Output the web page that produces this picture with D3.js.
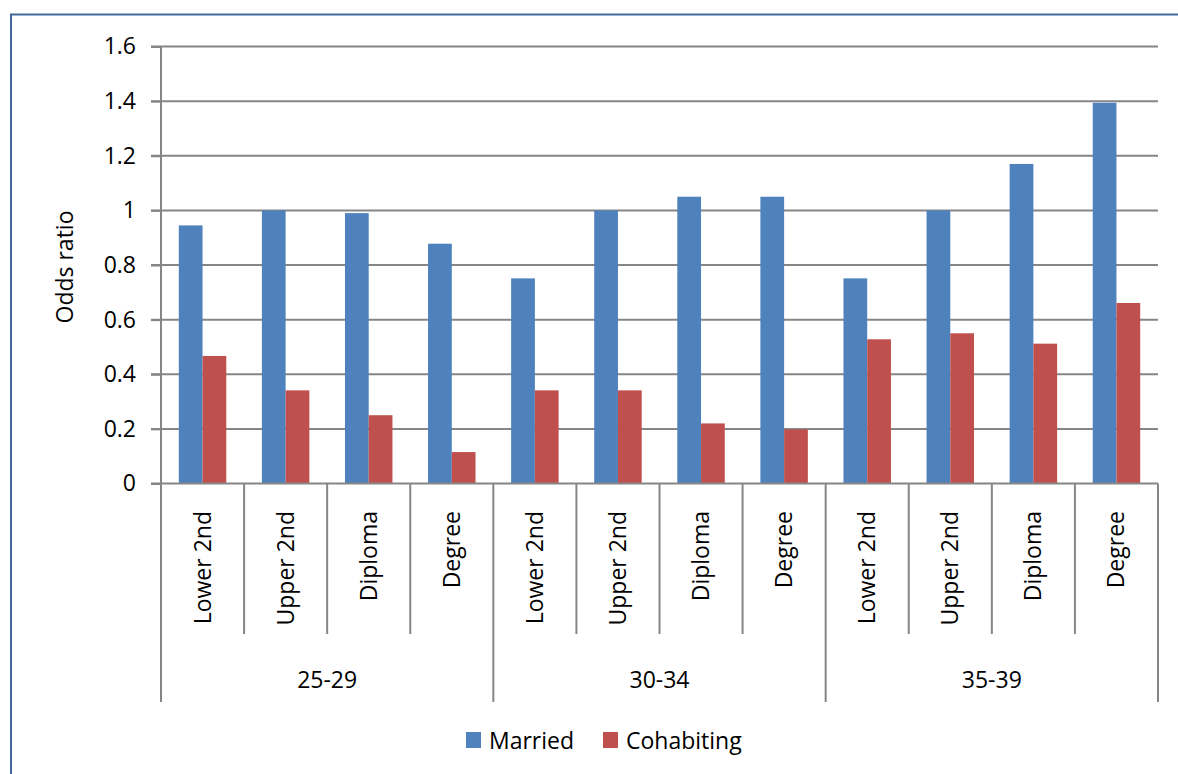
<!DOCTYPE html>
<html>
<head>
<meta charset="utf-8">
<script src="https://cdn.jsdelivr.net/npm/d3@7"></script>
<style>
  body { margin: 0; background: #fff; }
  svg text { font-family: "Open Sans", Lato, sans-serif; fill: #000; }
  .grid line { stroke: #868686; stroke-width: 2; }
  .axis path, .axis line { stroke: #868686; stroke-width: 2; }
</style>
</head>
<body>
<div id="chart"></div>
<script>
const width = 1178, height = 774
const margin = { top: 46.5, right: 20, bottom: 290.5, left: 161 }

// data
const ageGroups = ["25-29", "30-34", "35-39"]
const levels = ["Lower 2nd", "Upper 2nd", "Diploma", "Degree"]
const seriesNames = ["Married", "Cohabiting"]
const married = [0.945, 1.0, 0.99, 0.878, 0.751, 1.0, 1.05, 1.05, 0.751, 1.0, 1.17, 1.394]
const cohabiting = [0.467, 0.341, 0.25, 0.115, 0.341, 0.341, 0.22, 0.198, 0.528, 0.55, 0.512, 0.661]
const yTicks = [0, 0.2, 0.4, 0.6, 0.8, 1, 1.2, 1.4, 1.6]
const colors = ["#4f81bd", "#c0504d"]

const rows = []
ageGroups.forEach((g, gi) => {
  levels.forEach((l, li) => {
    const i = gi * levels.length + li
    rows.push({ key: g + "|" + l, group: g, level: l, values: [married[i], cohabiting[i]] })
  })
})

const svg = d3.select("#chart").append("svg")
  .attr("width", width)
  .attr("height", height)

// outer chart frame
svg.append("rect")
  .attr("x", 11).attr("y", 14.5)
  .attr("width", 1200).attr("height", 800)
  .attr("fill", "none")
  .attr("stroke", "#41699c")
  .attr("stroke-width", 2)

const plotW = 1158 - margin.left
const plotBottom = 483.5

const x = d3.scaleBand()
  .domain(rows.map(d => d.key))
  .range([margin.left, margin.left + plotW])

// bar width = category / 3.5 (gap 150%)
const bw = x.bandwidth() / 3.5
const x1 = d3.scaleBand()
  .domain(seriesNames)
  .range([x.bandwidth() * 0.75 / 3.5, x.bandwidth() * 0.75 / 3.5 + 2 * bw])

const y = d3.scaleLinear()
  .domain([0, 1.6])
  .range([plotBottom, margin.top])

// gridlines
svg.append("g")
  .attr("class", "grid")
  .selectAll("line")
  .data(yTicks.filter(d => d > 0))
  .join("line")
  .attr("x1", margin.left - 10)
  .attr("x2", margin.left + plotW)
  .attr("y1", d => y(d))
  .attr("y2", d => y(d))

// bars
const cat = svg.append("g").selectAll("g")
  .data(rows)
  .join("g")
  .attr("transform", d => `translate(${x(d.key)},0)`)

cat.selectAll("rect")
  .data(d => d.values.map((v, i) => ({ name: seriesNames[i], value: v, i })))
  .join("rect")
  .attr("x", d => x1(d.name))
  .attr("width", x1.bandwidth())
  .attr("y", d => y(d.value))
  .attr("height", d => y(0) - y(d.value))
  .attr("fill", d => colors[d.i])

// y axis
const yAxis = d3.axisLeft(y)
  .tickValues(yTicks)
  .tickSize(10)
  .tickPadding(15)
  .tickFormat(d => d3.format("")(d))

const gy = svg.append("g")
  .attr("class", "axis")
  .attr("transform", `translate(${margin.left},0)`)
  .call(yAxis)
gy.select(".domain").remove()
gy.selectAll("text").style("font-size", "23px")

svg.append("line")
  .attr("stroke", "#868686").attr("stroke-width", 2)
  .attr("x1", margin.left).attr("x2", margin.left)
  .attr("y1", margin.top).attr("y2", 702)

// x axis baseline
svg.append("line")
  .attr("stroke", "#868686").attr("stroke-width", 2)
  .attr("x1", margin.left - 10).attr("x2", margin.left + plotW)
  .attr("y1", plotBottom).attr("y2", plotBottom)

// category separators
const xg = svg.append("g")
xg.selectAll("line")
  .data(rows.map((d, i) => i).concat([rows.length]).filter(i => i > 0))
  .join("line")
  .attr("stroke", "#868686").attr("stroke-width", 2)
  .attr("x1", i => margin.left + i * x.step())
  .attr("x2", i => margin.left + i * x.step())
  .attr("y1", plotBottom)
  .attr("y2", i => i % levels.length === 0 ? 702 : 634)

// level labels (rotated)
svg.append("g").selectAll("text")
  .data(rows)
  .join("text")
  .attr("transform", d => `translate(${x(d.key) + x.bandwidth() / 2 + 8},511) rotate(-90)`)
  .attr("text-anchor", "end")
  .style("font-size", "23px")
  .text(d => d.level)

// age group labels
svg.append("g").selectAll("text")
  .data(ageGroups)
  .join("text")
  .attr("x", (g, gi) => margin.left + (gi + 0.5) * levels.length * x.step())
  .attr("y", 688)
  .attr("text-anchor", "middle")
  .style("font-size", "23px")
  .text(d => d)

// y title
svg.append("text")
  .attr("transform", "translate(73,267) rotate(-90)")
  .attr("text-anchor", "middle")
  .style("font-size", "23px")
  .text("Odds ratio")

// legend
const legend = svg.append("g").attr("transform", "translate(466,732)")
const items = legend.selectAll("g")
  .data(seriesNames)
  .join("g")
  .attr("transform", (d, i) => `translate(${i * 137},0)`)
items.append("rect")
  .attr("width", 15).attr("height", 16)
  .attr("fill", (d, i) => colors[i])
items.append("text")
  .attr("x", 23).attr("y", 17)
  .style("font-size", "23px")
  .text(d => d)
</script>
</body>
</html>
